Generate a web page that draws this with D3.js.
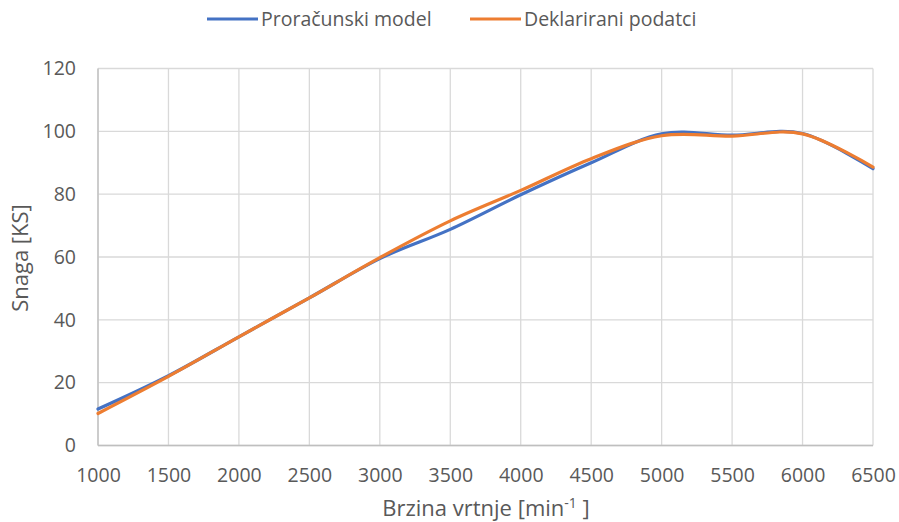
<!DOCTYPE html>
<html><head><meta charset="utf-8">
<script src="https://cdn.jsdelivr.net/npm/d3@7"></script>
<style>body{margin:0;background:#fff}svg text{font-family:"Open Sans",sans-serif;fill:#595959}</style>
</head><body><svg id="c" width="899" height="522"></svg>
<script>
const rpm = [1000,1500,2000,2500,3000,3500,4000,4500,5000,5500,6000,6500];
const proracunski = [11.6,22.2,34.6,47.0,59.5,68.8,79.8,90.0,99.2,98.8,99.3,88.1];
const deklarirani = [10.2,22.0,34.6,47.0,59.8,71.5,81.2,91.3,98.6,98.5,99.2,88.6];
const xTicks = [1000,1500,2000,2500,3000,3500,4000,4500,5000,5500,6000,6500];
const yTicks = [0,20,40,60,80,100,120];
const seriesNames = ["Proračunski model","Deklarirani podatci"];
const colors = ["#4472C4","#ED7D31"];
const FS = 19.5, TS = 22;

const svg = d3.select("#c");
const x = d3.scaleLinear().domain([1000,6500]).range([98,873]);
const y = d3.scaleLinear().domain([0,120]).range([445.5,68.5]);

const g = svg.append("g");
g.selectAll(".vg").data(xTicks).enter().append("line")
  .attr("x1",d=>x(d)).attr("x2",d=>x(d)).attr("y1",y(0)).attr("y2",y(120))
  .attr("stroke","#d9d9d9").attr("stroke-width",1.3);
g.selectAll(".hg").data(yTicks).enter().append("line")
  .attr("x1",x(1000)).attr("x2",x(6500)).attr("y1",d=>y(d)).attr("y2",d=>y(d))
  .attr("stroke","#d9d9d9").attr("stroke-width",1.3);
g.append("line").attr("x1",x(1000)).attr("x2",x(1000)).attr("y1",y(0)).attr("y2",y(120)).attr("stroke","#bfbfbf").attr("stroke-width",1.3);
g.append("line").attr("x1",x(1000)).attr("x2",x(6500)).attr("y1",y(0)).attr("y2",y(0)).attr("stroke","#bfbfbf").attr("stroke-width",1.3);

const xa = d3.axisBottom(x).tickValues(xTicks).tickSize(0).tickPadding(0).tickFormat(d3.format("d"));
const xg = svg.append("g").attr("transform",`translate(0,${y(0)})`).call(xa);
xg.select(".domain").remove();
xg.selectAll("text").attr("font-size",FS).attr("y",36).attr("dy",null);
const ya = d3.axisLeft(y).tickValues(yTicks).tickSize(0).tickPadding(22);
const yg = svg.append("g").attr("transform",`translate(${x(1000)},0)`).call(ya);
yg.select(".domain").remove();
yg.selectAll("text").attr("font-size",FS);

const line = d3.line().x((d,i)=>x(rpm[i])).y(d=>y(d)).curve(d3.curveCardinal.tension(0));
[proracunski,deklarirani].forEach((s,i)=>{
  svg.append("path").datum(s).attr("d",line).attr("fill","none")
    .attr("stroke",colors[i]).attr("stroke-width",3.2).attr("stroke-linecap","round");
});

svg.append("text").attr("transform","translate(28,258) rotate(-90)").attr("text-anchor","middle")
  .attr("font-size",TS).text("Snaga [KS]");
const xt = svg.append("text").attr("x",486).attr("y",516).attr("text-anchor","middle").attr("font-size",TS);
xt.append("tspan").text("Brzina vrtnje [min");
xt.append("tspan").attr("font-size",14).attr("dy",-8).text("-1");
xt.append("tspan").attr("dy",8).text(" ]");

const lx = [207,470];
seriesNames.forEach((n,i)=>{
  svg.append("line").attr("x1",lx[i]).attr("x2",lx[i]+51).attr("y1",19).attr("y2",19)
    .attr("stroke",colors[i]).attr("stroke-width",3.2);
  svg.append("text").attr("x",lx[i]+54).attr("y",19).attr("dy","0.35em").attr("font-size",FS).text(n);
});
</script></body></html>
